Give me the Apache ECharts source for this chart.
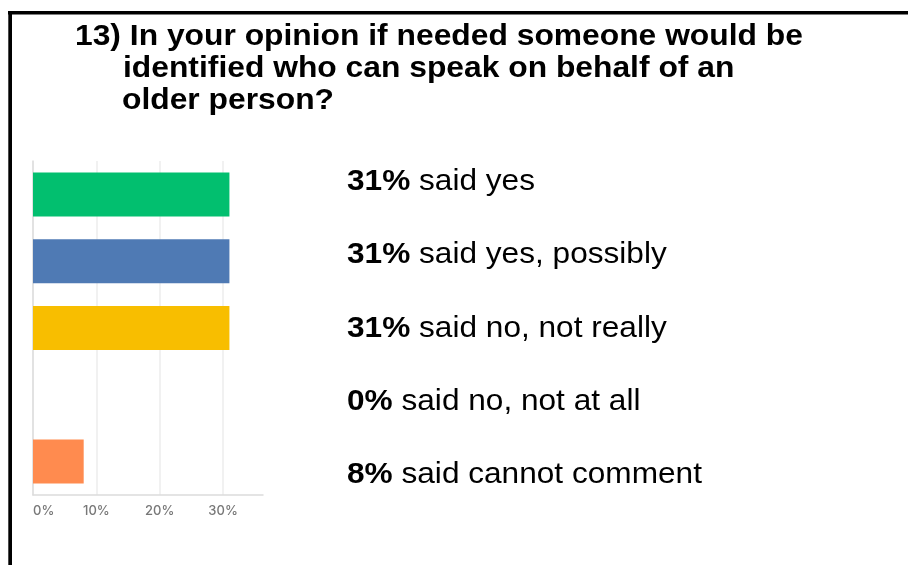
<!DOCTYPE html>
<html>
<head>
<meta charset="utf-8">
<script src="https://cdn.jsdelivr.net/npm/echarts@6/dist/echarts.min.js"></script>
<style>
  html, body { margin: 0; padding: 0; background: #fff; }
  #chart { width: 908px; height: 565px; }
</style>
</head>
<body>
<div id="chart"></div>
<script>
// Survey answers, top to bottom
const answers = ['said yes', 'said yes, possibly', 'said no, not really', 'said no, not at all', 'said cannot comment'];
const percents = [31, 31, 31, 0, 8];
const barColors = ['#02bf6f', '#4f7ab4', '#f8be00', '#ff8b4f', '#ff8b4f'];
const titleLines = [
  '13) In your opinion if needed someone would be',
  'identified who can speak on behalf of an',
  'older person?'
];

const chart = echarts.init(document.getElementById('chart'), null, { renderer: 'canvas' });

const titleX = [75, 123, 122];
const titleY = [36.5, 68.5, 100.5];
const titleGraphics = titleLines.map((line, i) => ({
  type: 'text',
  x: titleX[i],
  y: titleY[i],
  scaleX: 1.06,
  style: {
    text: line,
    font: 'bold 30px "Liberation Sans", Arial, sans-serif',
    fill: '#000',
    verticalAlign: 'middle',
    align: 'left'
  }
}));

const answerGraphics = answers.map((a, i) => ({
  type: 'text',
  x: 347,
  y: 182 + i * 73.3,
  scaleX: 1.09,
  style: {
    text: '{b|' + percents[i] + '%}{r| ' + a + '}',
    verticalAlign: 'middle',
    align: 'left',
    rich: {
      b: { font: 'bold 29px "Liberation Sans", Arial, sans-serif', fill: '#000' },
      r: { font: '29px "Liberation Sans", Arial, sans-serif', fill: '#000' }
    }
  }
}));

const option = {
  backgroundColor: '#fff',
  animation: false,
  grid: { left: 33, top: 161, width: 230, height: 334, containLabel: false },
  xAxis: {
    type: 'value',
    min: 0,
    max: 36.3,
    interval: 10,
    axisLine: { show: true, lineStyle: { color: '#dcdcdc', width: 1.5 } },
    axisTick: { show: false },
    axisLabel: {
      show: true,
      margin: 10,
      color: '#777',
      fontSize: 13,
      fontWeight: 500,
      fontFamily: 'Inter, "Open Sans", sans-serif',
      formatter: v => v + '%',
      showMaxLabel: false,
      alignMinLabel: 'left'
    },
    splitLine: { show: true, lineStyle: { color: ['#ececec', '#ececec', '#ececec', '#ececec', 'rgba(0,0,0,0)'], width: 1.5 } }
  },
  yAxis: {
    type: 'category',
    data: answers,
    inverse: true,
    axisLine: { show: true, lineStyle: { color: '#dcdcdc', width: 1.5 } },
    axisTick: { show: false },
    axisLabel: { show: false },
    splitLine: { show: false }
  },
  series: [{
    type: 'bar',
    barWidth: 44,
    data: percents.map((v, i) => ({ value: v, itemStyle: { color: barColors[i] } })),
    label: { show: false }
  }],
  graphic: [
    { type: 'rect', shape: { x: 8, y: 11, width: 900, height: 3.5 }, style: { fill: '#000' } },
    { type: 'rect', shape: { x: 8.3, y: 11, width: 3.7, height: 554 }, style: { fill: '#000' } }
  ].concat(titleGraphics, answerGraphics)
};

chart.setOption(option);
</script>
</body>
</html>
